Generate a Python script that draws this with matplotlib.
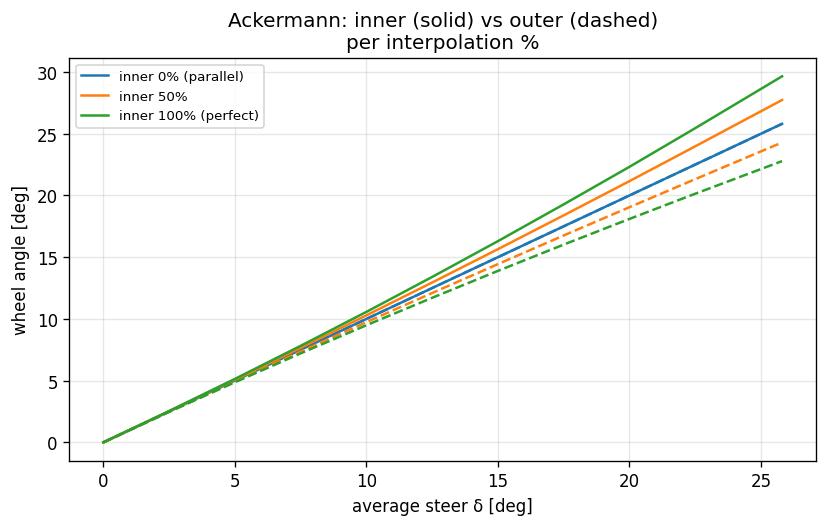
import matplotlib

matplotlib.use("Agg")
import matplotlib.pyplot as plt

# average steer angle [deg]
steer = [0, 2.5, 5, 7.5, 10, 12.5, 15, 17.5, 20, 22.5, 25.8]

# inner wheel angle per interpolation %
inner_0 = [0, 2.5, 5, 7.5, 10, 12.5, 15, 17.5, 20, 22.5, 25.8]
inner_50 = [0, 2.52, 5.07, 7.66, 10.29, 12.95, 15.65, 18.39, 21.16, 23.98, 27.73]
inner_100 = [0, 2.54, 5.14, 7.82, 10.57, 13.40, 16.30, 19.28, 22.32, 25.45, 29.65]

# outer wheel angle per interpolation %
outer_0 = [0, 2.5, 5, 7.5, 10, 12.5, 15, 17.5, 20, 22.5, 25.8]
outer_50 = [0, 2.48, 4.93, 7.35, 9.74, 12.10, 14.44, 16.76, 19.05, 21.32, 24.29]
outer_100 = [0, 2.47, 4.87, 7.21, 9.49, 11.71, 13.89, 16.02, 18.10, 20.14, 22.78]

labels = ["inner 0% (parallel)", "inner 50%", "inner 100% (perfect)"]
colors = ["tab:blue", "tab:orange", "tab:green"]

fig, ax = plt.subplots(figsize=(7, 4.5), dpi=120)
for inner, outer, label, color in zip(
    [inner_0, inner_50, inner_100], [outer_0, outer_50, outer_100], labels, colors
):
    ax.plot(steer, inner, color=color, label=label)
    ax.plot(steer, outer, color=color, linestyle="--")

ax.set_title("Ackermann: inner (solid) vs outer (dashed)\nper interpolation %")
ax.set_xlabel("average steer δ [deg]")
ax.set_ylabel("wheel angle [deg]")
ax.grid(alpha=0.3)
ax.legend(fontsize=8)
fig.tight_layout()
fig.savefig("out.png", dpi=120, bbox_inches="tight")
